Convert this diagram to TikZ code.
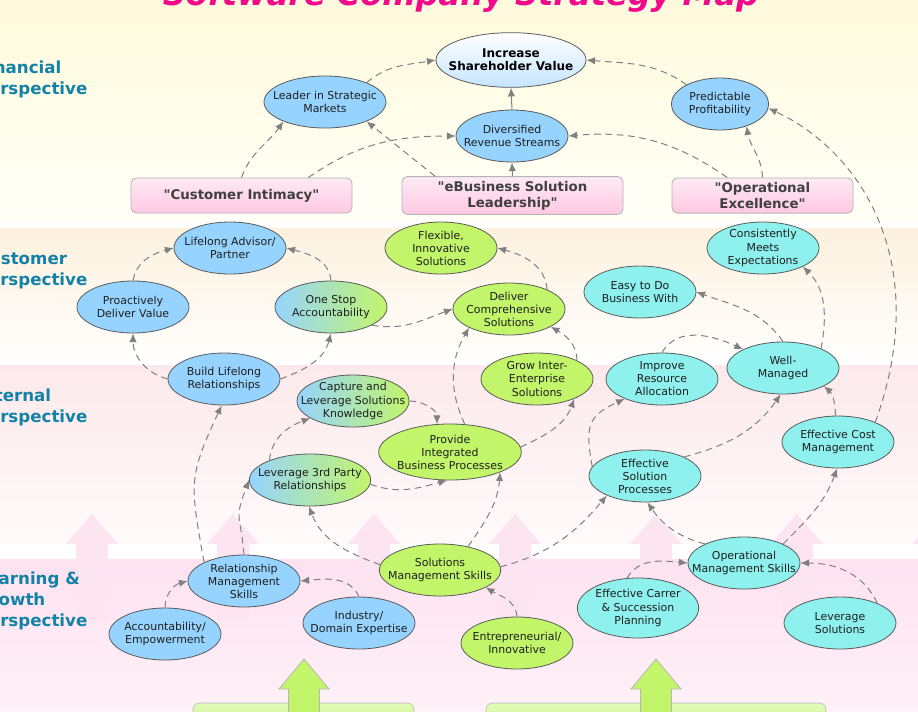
\documentclass[tikz,border=0pt]{standalone}
\usepackage{fontspec}
\setmainfont{DejaVu Sans}[Ligatures=TeXOff]
\usetikzlibrary{shapes.geometric,arrows.meta}

% colours
\definecolor{goalblue}{HTML}{96D4FF}
\definecolor{goalgreen}{HTML}{C2F56A}
\definecolor{goalcyan}{HTML}{8EF1EE}
\definecolor{incrblue}{HTML}{C4E5FF}
\definecolor{rimgray}{HTML}{5A5A5A}
\definecolor{inkgray}{HTML}{1E1E1E}
\definecolor{linkgray}{HTML}{808080}
\definecolor{persteal}{HTML}{1382A6}
\definecolor{titlepink}{HTML}{F2098C}
\definecolor{boxpinktop}{HTML}{FDEAF4}
\definecolor{boxpinkbot}{HTML}{FFC8E2}
\definecolor{boxrim}{HTML}{B4B4B4}
\definecolor{boxgreentop}{HTML}{E2FAB8}
\definecolor{finband}{HTML}{FFFADC}
\definecolor{finbandlow}{HTML}{FFFFF8}
\definecolor{cusband}{HTML}{FDF1DE}
\definecolor{intband}{HTML}{FCE9EB}
\definecolor{intbandlow}{HTML}{FFFAFA}
\definecolor{lrnband}{HTML}{FDE2F0}
\definecolor{lrnbandlow}{HTML}{FFF1F8}
\definecolor{arrowpink}{HTML}{FDE4F1}

\newcommand\goalfont{\fontsize{8.2}{9.8}\selectfont}
\newcommand\incrfont{\fontsize{9}{10}\selectfont\bfseries}
\newcommand\themefont{\fontsize{10}{12}\selectfont\bfseries}
\newcommand\perspfont{\fontsize{12.5}{15.5}\selectfont\bfseries}
\newcommand\titlefont{\fontsize{24}{28}\selectfont\bfseries\itshape}

\tikzset{
  goal/.style={ellipse, draw=rimgray, line width=0.6pt, align=center, font=\goalfont,
    text=inkgray, inner xsep=-12pt, inner ysep=-2pt, minimum width=84pt, minimum height=39pt},
  bluegoal/.style={goal, fill=goalblue},
  greengoal/.style={goal, fill=goalgreen},
  cyangoal/.style={goal, fill=goalcyan},
  mixgoal/.style={goal, left color=goalblue, right color=goalgreen},
  theme/.style={rectangle, rounded corners=4pt, draw=boxrim, line width=0.6pt,
    top color=boxpinktop, bottom color=boxpinkbot, align=center, font=\themefont,
    text=inkgray!85, minimum height=26.25pt},
  persp/.style={anchor=base west, align=left, font=\perspfont, text=persteal, inner sep=0pt},
  link/.style={draw=linkgray, line width=0.75pt, dash pattern=on 5pt off 3.5pt,
    -{Latex[length=6.5pt,width=5.5pt]}},
  solidlink/.style={draw=linkgray, line width=0.75pt, -{Latex[length=6.5pt,width=5.5pt]}},
}

\begin{document}
\begin{tikzpicture}[x=0.75pt, y=0.75pt]
    \useasboundingbox (0,0) rectangle (918,-711);

    % Draw the perspective bands
    \fill[white] (0,0) rectangle (918,-711);
    \shade[top color=finband, bottom color=finbandlow] (0,0) rectangle (918,-222);
    \shade[top color=cusband, bottom color=white] (0,-228) rectangle (918,-365);
    \shade[top color=intband, bottom color=intbandlow] (0,-365) rectangle (918,-543);
    \shade[top color=lrnband, bottom color=lrnbandlow] (0,-559) rectangle (918,-711);

    % Draw the pale up arrows between the bands
    \foreach \cx in {92,233,374,515,656,797,938}
        \fill[arrowpink] (\cx-16,-620) -- (\cx-16,-544) -- (\cx-26,-544) -- (\cx,-514)
            -- (\cx+26,-544) -- (\cx+16,-544) -- (\cx+16,-620) -- cycle;

    % Draw the green boxes and arrows at the bottom
    \shade[top color=boxgreentop, bottom color=goalgreen, draw=boxrim, rounded corners=5pt]
        (193,-703) rectangle (414,-745);
    \shade[top color=boxgreentop, bottom color=goalgreen, draw=boxrim, rounded corners=5pt]
        (486,-703) rectangle (826,-745);
    \foreach \cx in {304,656}
        \filldraw[fill=goalgreen, draw=boxrim, line width=0.6pt] (\cx-15.5,-712) -- (\cx-15.5,-689)
            -- (\cx-25,-689) -- (\cx,-659) -- (\cx+25,-689) -- (\cx+15.5,-689) -- (\cx+15.5,-712);

    % Title and perspective labels
    \node[font=\titlefont, text=titlepink, anchor=base, inner sep=0pt] (title) at (461,-5)
        {Software Company Strategy Map};
    \node[persp] (finlabel) at (-23.5,-94) {Financial\\Perspective};
    \node[persp] (cuslabel) at (-23.5,-285) {Customer\\Perspective};
    \node[persp] (intlabel) at (-23.5,-422) {Internal\\Perspective};
    \node[persp] (lrnlabel) at (-23.5,-626) {Learning \&\\Growth\\Perspective};

    % Financial perspective
    \node[goal, top color=white, bottom color=incrblue, minimum width=112.5pt, minimum height=41pt,
        font=\incrfont, text=black] (incr) at (511,-60) {Increase\\Shareholder Value};
    \node[bluegoal, minimum width=91.5pt] (leader) at (325,-102) {Leader in Strategic\\Markets};
    \node[bluegoal] (divers) at (512,-136) {Diversified\\Revenue Streams};
    \node[bluegoal, minimum width=73pt] (profit) at (720,-104) {Predictable\\Profitability};
    \node[theme, minimum width=165.75pt] (intimacy) at (241.5,-195.5) {"Customer Intimacy"};
    \node[theme, minimum width=165.75pt] (ebiz) at (512.5,-195.5) {"eBusiness Solution\\Leadership"};
    \node[theme, minimum width=135.75pt] (opex) at (762.5,-195.5) {"Operational\\Excellence"};

    % Customer perspective
    \node[bluegoal] (lifelong) at (230,-248) {Lifelong Advisor/\\Partner};
    \node[bluegoal] (proactive) at (133,-307) {Proactively\\Deliver Value};
    \node[mixgoal] (onestop) at (331,-307) {One Stop\\Accountability};
    \node[greengoal] (flexible) at (441,-248) {Flexible,\\Innovative\\Solutions};
    \node[greengoal] (deliver) at (509,-309) {Deliver\\Comprehensive\\Solutions};
    \node[cyangoal] (easy) at (640,-292) {Easy to Do\\Business With};
    \node[cyangoal] (consistent) at (763,-248) {Consistently\\Meets\\Expectations};

    % Internal perspective
    \node[bluegoal] (build) at (224,-379) {Build Lifelong\\Relationships};
    \node[mixgoal] (capture) at (353,-401) {Capture and\\Leverage Solutions\\Knowledge};
    \node[greengoal] (grow) at (537,-379) {Grow Inter-\\Enterprise\\Solutions};
    \node[cyangoal] (improve) at (662,-379) {Improve\\Resource\\Allocation};
    \node[cyangoal] (well) at (783,-368) {Well-\\Managed};
    \node[greengoal, minimum width=107pt, minimum height=42pt] (provide) at (450,-452)
        {Provide\\Integrated\\Business Processes};
    \node[mixgoal, minimum width=91pt] (lev3) at (310,-480) {Leverage 3rd Party\\Relationships};
    \node[cyangoal] (effsol) at (645,-476) {Effective\\Solution\\Processes};
    \node[cyangoal] (cost) at (838,-442) {Effective Cost\\Management};

    % Learning and growth perspective
    \node[bluegoal] (relm) at (244,-581) {Relationship\\Management\\Skills};
    \node[greengoal, minimum width=91pt] (solm) at (440,-570) {Solutions\\Management Skills};
    \node[cyangoal] (opm) at (744,-563) {Operational\\Management Skills};
    \node[bluegoal] (account) at (165,-634) {Accountability/\\Empowerment};
    \node[bluegoal] (industry) at (359,-623) {Industry/\\Domain Expertise};
    \node[greengoal] (entre) at (517,-643) {Entrepreneurial/\\Innovative};
    \node[cyangoal, minimum width=91pt, minimum height=45pt] (carrer) at (638,-608)
        {Effective Carrer\\\& Succession\\Planning};
    \node[cyangoal] (levsol) at (840,-623) {Leverage\\Solutions};

    % Connectors: financial
    \draw[link] (leader.25) to[out=40, in=190] (incr.west);
    \draw[link] (profit.150) to[out=145, in=-5] (incr.east);
    \draw[solidlink] (divers.north) -- (incr.south);
    \draw[solidlink] (ebiz.north) -- (divers.south);
    \draw[link] (intimacy.north) to[out=70, in=235] (leader.205);
    \draw[link] (intimacy.15) to[out=35, in=180] (divers.west);
    \draw[link] (ebiz.166) -- (leader.-25);
    \draw[link] (opex.153) to[out=145, in=5] (divers.east);
    \draw[link] (opex.north) to[out=92, in=-80] (profit.-40);
    \draw[link] (cost.28) to[out=70, in=-25, out looseness=1.3, in looseness=0.8] (profit.-5);

    % Connectors: customer
    \draw[link] (proactive.north) to[out=80, in=195] (lifelong.west);
    \draw[link] (onestop.north) to[out=95, in=-15] (lifelong.east);
    \draw[link] (build.west) to[out=165, in=-90] (proactive.south);
    \draw[link] (build.east) to[out=20, in=-105] (onestop.south);
    \draw[link] (onestop.-24) to[out=-10, in=200] (deliver.west);
    \draw[link] (deliver.27) to[out=95, in=-15] (flexible.east);
    \draw[link] (grow.25) to[out=90, in=-30] (deliver.-23);
    \draw[link] (provide.62) to[out=115, in=-120] (deliver.205);
    \draw[link] (well.north) to[out=125, in=-20] (easy.east);
    \draw[link] (well.27) to[out=80, in=-45] (consistent.-25);
    \draw[link] (improve.north) to[out=60, in=155] (well.155);

    % Connectors: internal
    \draw[link] (capture.east) to[out=0, in=90] (provide.115);
    \draw[link] (lev3.154) to[out=85, in=200] (capture.202);
    \draw[link] (lev3.-4) to[out=-20, in=195] (provide.-96);
    \draw[link] (provide.4) to[out=25, in=-110] (grow.-28);
    \draw[link] (effsol.170) to[out=100, in=205, looseness=1.4] (improve.208);
    \draw[link] (effsol.26) to[out=15, in=-125] (well.-95);
    \draw[link] (cost.95) to[out=95, in=-40] (well.-24);

    % Connectors: learning and growth
    \draw[link] (relm.155) to[out=100, in=-115, looseness=1.3] (build.-95);
    \draw[link] (relm.north) to[out=95, in=-110, looseness=1.5] (lev3.west);
    \draw[link] (account.north) to[out=90, in=195] (relm.west);
    \draw[link] (industry.north) to[out=115, in=5] (relm.east);
    \draw[link] (solm.175) to[out=160, in=-70] (lev3.-92);
    \draw[link] (solm.40) to[out=55, in=-95] (provide.-22);
    \draw[link] (solm.3) to[out=15, in=230] (effsol.207);
    \draw[link] (entre.north) to[out=95, in=-30] (solm.-21);
    \draw[link] (opm.154) to[out=165, in=-55] (effsol.-85);
    \draw[link] (opm.26) to[out=45, in=-110] (cost.-92);
    \draw[link] (carrer.110) to[out=60, in=175] (opm.west);
    \draw[link] (levsol.28) to[out=115, in=0] (opm.east);
\end{tikzpicture}
\end{document}
